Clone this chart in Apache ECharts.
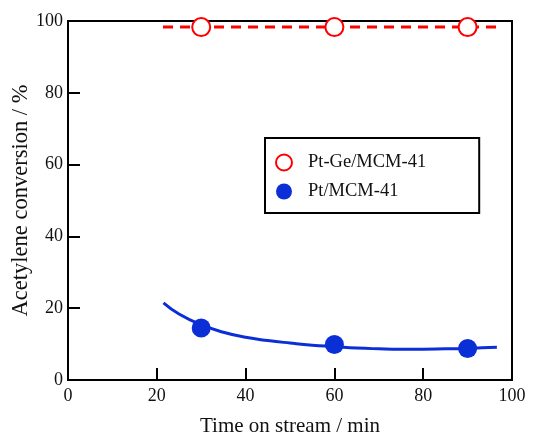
<!DOCTYPE html>
<html><head><meta charset="utf-8">
<script src="https://cdn.jsdelivr.net/npm/echarts@6/dist/echarts.min.js"></script>
<style>html,body{margin:0;padding:0;background:#fff}#c{width:536px;height:435px}</style>
</head><body><div id="c"></div>
<script>
const ptGePoints = [[30, 98.3], [60, 98.3], [90, 98.3]];
const ptGeLine = [[21.4, 98.3], [96.6, 98.3]];
const ptPoints = [[30, 14.5], [60, 9.9], [90, 8.8]];
const ptCurve = [[21.5, 21.5], [25, 18.4], [30, 15.4], [35, 13.3], [40, 11.9], [45, 11.0], [50, 10.3], [55, 9.7], [60, 9.3], [65, 8.9], [70, 8.7], [75, 8.6], [80, 8.6], [85, 8.7], [90, 8.8], [96.6, 9.1]];
const xTicks = [0, 20, 40, 60, 80, 100];
const yTicks = [0, 20, 40, 60, 80, 100];

const font = 'Liberation Serif, Times New Roman, serif';
const chart = echarts.init(document.getElementById('c'), null, {renderer: 'canvas'});
chart.setOption({
  animation: false,
  backgroundColor: '#fff',
  grid: {left: 68, right: 24, top: 21, bottom: 55, show: true, borderColor: '#000', borderWidth: 2,
         containLabel: false, outerBoundsMode: 'none'},
  xAxis: {
    type: 'value', min: xTicks[0], max: xTicks[xTicks.length - 1], interval: 20,
    name: 'Time on stream / min', nameLocation: 'middle', nameGap: 36, nameMoveOverlap: false,
    nameTextStyle: {fontFamily: font, fontSize: 21, color: '#111'},
    axisLine: {show: true, lineStyle: {color: '#000', width: 2}},
    axisTick: {show: true, inside: true, length: 12, lineStyle: {color: '#000', width: 2}},
    axisLabel: {fontFamily: font, fontSize: 18, color: '#111', margin: 7},
    splitLine: {show: false}
  },
  yAxis: {
    type: 'value', min: yTicks[0], max: yTicks[yTicks.length - 1], interval: 20,
    name: 'Acetylene conversion / %', nameLocation: 'middle', nameGap: 35, nameMoveOverlap: false,
    nameTextStyle: {fontFamily: font, fontSize: 22.5, color: '#111'},
    axisLine: {show: true, lineStyle: {color: '#000', width: 2}},
    axisTick: {show: true, inside: true, length: 12, lineStyle: {color: '#000', width: 2}},
    axisLabel: {fontFamily: font, fontSize: 18, color: '#111', margin: 5},
    splitLine: {show: false}
  },
  legend: {
    orient: 'vertical', left: 265, top: 138,
    borderColor: '#000', borderWidth: 2,
    padding: [15, 53, 12, 10],
    itemWidth: 16, itemHeight: 16, itemGap: 10,
    textStyle: {fontFamily: font, fontSize: 18.5, color: '#111', lineHeight: 16, padding: [0, 0, 0, 11]},
    data: [
      {name: 'Pt-Ge/MCM-41', icon: 'circle', itemStyle: {color: '#fff', borderColor: '#ff0000', borderWidth: 2}},
      {name: 'Pt/MCM-41', icon: 'circle', itemStyle: {color: '#0a2fd6', borderWidth: 0}}
    ]
  },
  series: [
    {type: 'line', data: ptGeLine, symbol: 'none', silent: true, z: 1,
     lineStyle: {color: '#ff0000', width: 3, type: [10, 7]}},
    {type: 'line', data: ptCurve, symbol: 'none', smooth: true, silent: true, z: 1,
     lineStyle: {color: '#0a2fd6', width: 3}},
    {name: 'Pt-Ge/MCM-41', type: 'scatter', data: ptGePoints, symbol: 'circle', symbolSize: 18, z: 3,
     itemStyle: {color: '#fff', borderColor: '#ff0000', borderWidth: 2, opacity: 1}},
    {name: 'Pt/MCM-41', type: 'scatter', data: ptPoints, symbol: 'circle', symbolSize: 19, z: 3,
     itemStyle: {color: '#0a2fd6', opacity: 1}}
  ]
});
</script></body></html>
